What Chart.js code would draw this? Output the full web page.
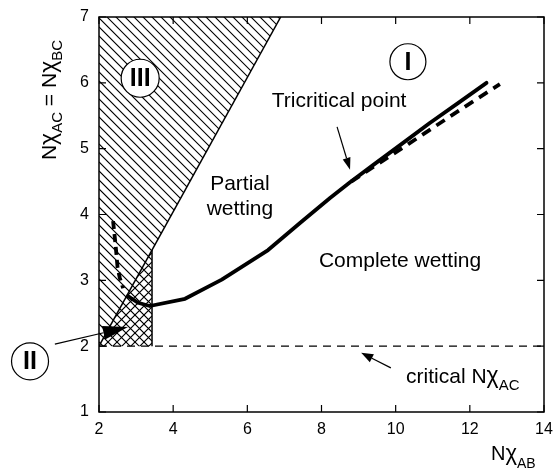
<!DOCTYPE html>
<html>
<head>
<meta charset="utf-8">
<script src="https://cdn.jsdelivr.net/npm/chart.js@4.4.0/dist/chart.umd.min.js"></script>
<style>
  html, body { margin: 0; padding: 0; background: #fff; }
</style>
</head>
<body>
<canvas id="diagram" width="557" height="472"></canvas>
<script>
// Axis ticks
const ticksX = [2, 4, 6, 8, 10, 12, 14];
const ticksY = [1, 2, 3, 4, 5, 6, 7];

// Wetting transition line (solid)
const wettingX = [2.78, 3.05, 3.37, 4.32, 5.31, 6.56, 7.42, 8.23, 8.77, 9.39, 10.11, 10.92, 11.7, 12.45];
const wettingY = [2.76, 2.66, 2.61, 2.72, 3.01, 3.46, 3.87, 4.25, 4.49, 4.75, 5.05, 5.39, 5.70, 6.00];

// Continuation beyond the tricritical point (dashed)
const upperX = [8.8, 10.34, 11.82, 12.81];
const upperY = [4.5, 5.07, 5.62, 5.98];

// Short dashed branch near region III
const branchX = [2.38, 2.45, 2.50, 2.56, 2.65];
const branchY = [3.90, 3.52, 3.20, 3.04, 2.88];

// Boundary of region III and vertical edge of region II
const boundaryX = [2, 6.9];
const boundaryY = [2, 7];
const edgeX = [3.43, 3.43];
const edgeY = [2, 3.46];

// critical N chi_AC
const criticalX = [2, 14];
const criticalY = [2, 2];

// Hatched regions (vertices)
const regionIIIx = [boundaryX[0], boundaryX[1], 2];
const regionIIIy = [boundaryY[0], boundaryY[1], 7];
const regionIIx = [boundaryX[0], edgeX[0], edgeX[1]];
const regionIIy = [boundaryY[0], edgeY[0], edgeY[1]];

const FONT = '"Liberation Sans", Arial, Helvetica, sans-serif';

function pts(xs, ys) {
  return xs.map((v, i) => ({ x: v, y: ys[i] }));
}

// draws text pieces one after another: [text, size, dy, bold]
function rich(ctx, x, y, parts, align) {
  let w = 0;
  parts.forEach(p => {
    ctx.font = (p[3] ? 'bold ' : '') + p[1] + 'px ' + FONT;
    w += ctx.measureText(p[0]).width;
  });
  let cx = align === 'center' ? x - w / 2 : (align === 'right' ? x - w : x);
  ctx.textAlign = 'left';
  ctx.textBaseline = 'alphabetic';
  parts.forEach(p => {
    ctx.font = (p[3] ? 'bold ' : '') + p[1] + 'px ' + FONT;
    ctx.fillText(p[0], cx, y + (p[2] || 0));
    cx += ctx.measureText(p[0]).width;
  });
}

function arrow(ctx, x0, y0, x1, y1, len, half) {
  const a = Math.atan2(y1 - y0, x1 - x0);
  const bx = x1 - len * Math.cos(a), by = y1 - len * Math.sin(a);
  ctx.beginPath();
  ctx.moveTo(x0, y0);
  ctx.lineTo(bx, by);
  ctx.stroke();
  ctx.beginPath();
  ctx.moveTo(x1, y1);
  ctx.lineTo(bx + half * Math.sin(a), by - half * Math.cos(a));
  ctx.lineTo(bx - half * Math.sin(a), by + half * Math.cos(a));
  ctx.closePath();
  ctx.fill();
}

function hatch(ctx, xs, ys, sx, sy, dirs, step) {
  const p = xs.map((v, i) => [sx.getPixelForValue(v), sy.getPixelForValue(ys[i])]);
  const l = Math.min(...p.map(q => q[0])), r = Math.max(...p.map(q => q[0]));
  const t = Math.min(...p.map(q => q[1])), b = Math.max(...p.map(q => q[1]));
  ctx.save();
  ctx.beginPath();
  p.forEach((q, i) => i ? ctx.lineTo(q[0], q[1]) : ctx.moveTo(q[0], q[1]));
  ctx.closePath();
  ctx.clip();
  ctx.strokeStyle = '#000';
  ctx.lineWidth = 1.1;
  ctx.beginPath();
  dirs.forEach(d => {
    if (d === '\\') {
      for (let c = Math.floor((t - r) / step) * step; c <= b - l; c += step) {
        ctx.moveTo(l, l + c);
        ctx.lineTo(r, r + c);
      }
    } else {
      for (let c = Math.floor((t + l) / step) * step; c <= b + r; c += step) {
        ctx.moveTo(l, c - l);
        ctx.lineTo(r, c - r);
      }
    }
  });
  ctx.stroke();
  ctx.restore();
}

function circleLabel(ctx, cx, cy, rad, text) {
  ctx.beginPath();
  ctx.arc(cx, cy, rad, 0, Math.PI * 2);
  ctx.fillStyle = '#fff';
  ctx.fill();
  ctx.lineWidth = 1.2;
  ctx.strokeStyle = '#000';
  ctx.stroke();
  ctx.fillStyle = '#000';
  ctx.font = 'bold 25px ' + FONT;
  ctx.textAlign = 'center';
  ctx.textBaseline = 'middle';
  ctx.fillText(text, cx, cy + 1);
}

const decor = {
  id: 'decor',
  beforeDatasetsDraw(chart) {
    const { ctx, scales: { x, y } } = chart;
    hatch(ctx, regionIIIx, regionIIIy, x, y, ['\\'], 9);
    hatch(ctx, regionIIx, regionIIy, x, y, ['\\', '/'], 9);
  },
  afterDatasetsDraw(chart) {
    const { ctx, chartArea: a, scales: { x, y } } = chart;
    const X = v => x.getPixelForValue(v), Y = v => y.getPixelForValue(v);
    ctx.save();
    ctx.strokeStyle = '#000';
    ctx.fillStyle = '#000';

    // frame and inward ticks
    ctx.lineWidth = 1.5;
    ctx.strokeRect(a.left, a.top, a.right - a.left, a.bottom - a.top);
    ctx.lineWidth = 1.2;
    ctx.beginPath();
    x.ticks.forEach(t => {
      const p = X(t.value);
      ctx.moveTo(p, a.bottom); ctx.lineTo(p, a.bottom - 7);
      ctx.moveTo(p, a.top); ctx.lineTo(p, a.top + 7);
    });
    y.ticks.forEach(t => {
      const p = Y(t.value);
      ctx.moveTo(a.left, p); ctx.lineTo(a.left + 7, p);
      ctx.moveTo(a.right, p); ctx.lineTo(a.right - 7, p);
    });
    ctx.stroke();

    // region labels
    circleLabel(ctx, X(10.33), Y(6.32), 18, 'I');
    circleLabel(ctx, X(3.11), Y(6.07), 19, 'III');
    circleLabel(ctx, X(0.14), Y(1.77), 18.5, 'II');

    // arrows
    ctx.lineWidth = 1.2;
    arrow(ctx, X(0.81), Y(2.03), X(2.78), Y(2.29), 25, 7);
    arrow(ctx, X(8.42), Y(5.33), X(8.77), Y(4.68), 12, 4);
    arrow(ctx, X(9.87), Y(1.67), X(9.07), Y(1.90), 12, 4.5);

    // annotations
    ctx.fillStyle = '#000';
    rich(ctx, X(6.66), Y(5.63), [['Tricritical point', 21]], 'left');
    rich(ctx, X(5.8), Y(4.37), [['Partial', 21]], 'center');
    rich(ctx, X(5.8), Y(4.0), [['wetting', 21]], 'center');
    rich(ctx, X(7.93), Y(3.2), [['Complete wetting', 21]], 'left');
    rich(ctx, X(10.28), Y(1.44), [['critical N', 21], ['\u03c7', 23], ['AC', 15, 7]], 'left');

    // axis titles
    rich(ctx, 491, 460, [['N', 20], ['\u03c7', 22], ['AB', 14, 8]], 'left');
    ctx.translate(56, 100);
    ctx.rotate(-Math.PI / 2);
    rich(ctx, 0, 0, [['N', 21], ['\u03c7', 23], ['AC', 15, 6], [' = N', 21], ['\u03c7', 23], ['BC', 15, 6]], 'center');
    ctx.restore();
  }
};

const ctx = document.getElementById('diagram').getContext('2d');
new Chart(ctx, {
  type: 'scatter',
  data: {
    datasets: [
      { data: pts(boundaryX, boundaryY), borderWidth: 1.5 },
      { data: pts(edgeX, edgeY), borderWidth: 1.5 },
      { data: pts(criticalX, criticalY), borderWidth: 1.3, borderDash: [8, 6] },
      { data: pts(branchX, branchY), borderWidth: 3.8, borderDash: [8, 5] },
      { data: pts(upperX, upperY), borderWidth: 3.8, borderDash: [10, 7] },
      { data: pts(wettingX, wettingY), borderWidth: 3.8, borderCapStyle: 'round', borderJoinStyle: 'round' }
    ].map(d => Object.assign({ showLine: true, borderColor: '#000', pointRadius: 0, fill: false }, d))
  },
  options: {
    responsive: false,
    animation: false,
    devicePixelRatio: 1,
    layout: { padding: { top: 17, right: 13, left: 0, bottom: 0 } },
    plugins: { legend: { display: false }, tooltip: { enabled: false } },
    scales: {
      x: {
        type: 'linear', min: 2, max: 14,
        afterBuildTicks: axis => { axis.ticks = ticksX.map(v => ({ value: v })); },
        afterFit: axis => { axis.height = 60; axis.paddingLeft = 0; axis.paddingRight = 0; },
        grid: { display: false, drawTicks: false },
        border: { display: false },
        ticks: { color: '#000', font: { family: FONT, size: 16 }, padding: 8, maxRotation: 0, autoSkip: false }
      },
      y: {
        type: 'linear', min: 1, max: 7,
        afterBuildTicks: axis => { axis.ticks = ticksY.map(v => ({ value: v })); },
        afterFit: axis => { axis.width = 99; axis.paddingTop = 0; axis.paddingBottom = 0; },
        grid: { display: false, drawTicks: false },
        border: { display: false },
        ticks: { color: '#000', font: { family: FONT, size: 16 }, padding: 10, autoSkip: false }
      }
    }
  },
  plugins: [decor]
});
</script>
</body>
</html>
